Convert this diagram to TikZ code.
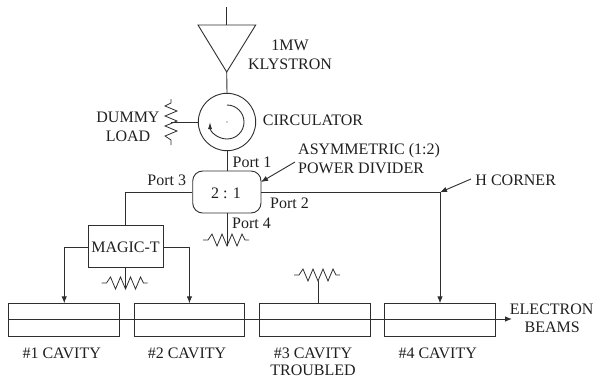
\documentclass[tikz,border=0pt]{standalone}
\usepackage{fontspec}
\setmainfont{Liberation Serif}
\usetikzlibrary{arrows.meta}
\tikzset{
  wire/.style={line width=0.9pt,draw=black!82},
  arrowwire/.style={wire,-{Latex[length=7pt,width=5.5pt]}},
  lbl/.style={inner sep=0pt,anchor=base,font=\fontsize{16}{18}\selectfont,text=black!88},
  boxy/.style={wire,inner sep=0pt,anchor=north west},
  resistor/.pic={\draw[wire,line width=0.8pt,line join=miter] (-23,0)--(-18,0)--(-14,-6)--(-9,6)--(-4,-6)--(1,6)--(6,-6)--(11,6)--(16,-6)--(19,0)--(23,0);}
}
\begin{document}
\begin{tikzpicture}[x=1pt,y=-1pt]
\useasboundingbox (0,0) rectangle (594,378);
% klystron
\coordinate (in) at (226.7,7);
\coordinate (tl) at (198,25);
\coordinate (tr) at (255.7,25);
\coordinate (tm) at (226.7,25);
\coordinate (ta) at (226.7,72);
\draw[wire,line join=miter] (tl)--(tr)--(ta)--cycle;
\draw[wire] (in)--(tm);
% circulator
\node[wire,draw,circle,minimum size=57.4pt,inner sep=0pt] (circ) at (227,122) {};
\draw[wire] (ta)--(circ.north);
\fill[black!82] (circ.center) circle (0.6pt);
\draw[wire,-{Latex[length=7pt,width=4pt]}] (227,105) arc[start angle=-90,end angle=180,x radius=17,y radius=17];
% dummy load
\coordinate (dl) at (171,122);
\draw[wire] (circ.west)--(dl);
\pic[rotate=90] at (171,122) {resistor};
% divider
\node[wire,draw,rounded corners=10pt,minimum width=68.3pt,minimum height=42pt,inner sep=0pt] (div) at (226.85,192) {};
\node[lbl] (ratio) at (226,198.5) {2 : 1};
\draw[wire] (circ.south)--(div.north -| circ.south);
% port 4 load
\coordinate (p4) at (226,240);
\coordinate (p4tip) at (227,246);
\draw[wire] (div.south -| p4tip)--(p4tip);
\pic at (p4) {resistor};
% magic T
\node[wire,draw,minimum width=75pt,minimum height=41.3pt,inner sep=0pt] (magic) at (125.5,246.35) {};
\node[lbl] (magictxt) at (125.5,252.3) {MAGIC-T};
\draw[wire] (div.west |- 0,192.3) -| (magic.north);
\coordinate (mt) at (124.5,283);
\coordinate (mttip) at (125.5,289);
\draw[wire] (magic.south)--(mttip);
\pic at (mt) {resistor};
% cavities
\node[boxy,draw,minimum width=111pt,minimum height=33pt] (c1) at (8.3,303.3) {};
\node[boxy,draw,minimum width=110.6pt,minimum height=33pt] (c2) at (133.7,303.3) {};
\node[boxy,draw,minimum width=110.7pt,minimum height=33pt] (c3) at (259.3,303.3) {};
\node[boxy,draw,minimum width=111pt,minimum height=33pt] (c4) at (384.3,303.3) {};
\draw[arrowwire] (magic.west |- 0,247) -| (c1.north);
\draw[arrowwire] (magic.east |- 0,247) -| (c2.north);
% beam
\coordinate (beamend) at (512,319);
\draw[arrowwire] (c1.west |- beamend)--(beamend);
% cavity 3 load
\coordinate (c3r) at (317,275);
\coordinate (c3tip) at (318,281);
\draw[wire] (318,303.3)--(c3tip);
\pic at (c3r) {resistor};
% H corner
\coordinate (hc) at (440,192.3);
\draw[wire] (div.east |- hc)--(hc);
\draw[arrowwire] (hc)--(hc |- c4.north);
\coordinate (hl) at (471,179);
\draw[arrowwire] (hl)--(hc);
\coordinate (al) at (295,162);
\draw[arrowwire] (al)--(261,182);
% labels
\node[lbl] (k1) at (290,50.3) {1MW};
\node[lbl] (k2) at (290,69.3) {KLYSTRON};
\node[lbl] (cl) at (313,125.5) {CIRCULATOR};
\node[lbl] (d1) at (128,122.3) {DUMMY};
\node[lbl] (d2) at (128,141.3) {LOAD};
\node[lbl,anchor=base west] (a1) at (298,154) {ASYMMETRIC (1:2)};
\node[lbl,anchor=base west] (a2) at (298,173) {POWER DIVIDER};
\node[lbl] (p1) at (252,167.5) {Port 1};
\node[lbl] (p3) at (166.7,185.5) {Port 3};
\node[lbl] (p2) at (289.5,208.5) {Port 2};
\node[lbl] (p4t) at (251.5,228.5) {Port 4};
\node[lbl] (hct) at (515.7,185.5) {H CORNER};
\node[lbl] (t1) at (61.7,358) {\#1 CAVITY};
\node[lbl] (t2) at (187,358.3) {\#2 CAVITY};
\node[lbl] (t3) at (313,358) {\#3 CAVITY};
\node[lbl] (t3b) at (313,375.5) {TROUBLED};
\node[lbl] (t4) at (437.7,358) {\#4 CAVITY};
\node[lbl] (e1) at (551.7,314) {ELECTRON};
\node[lbl] (e2) at (552.3,332.5) {BEAMS};
\end{tikzpicture}
\end{document}
